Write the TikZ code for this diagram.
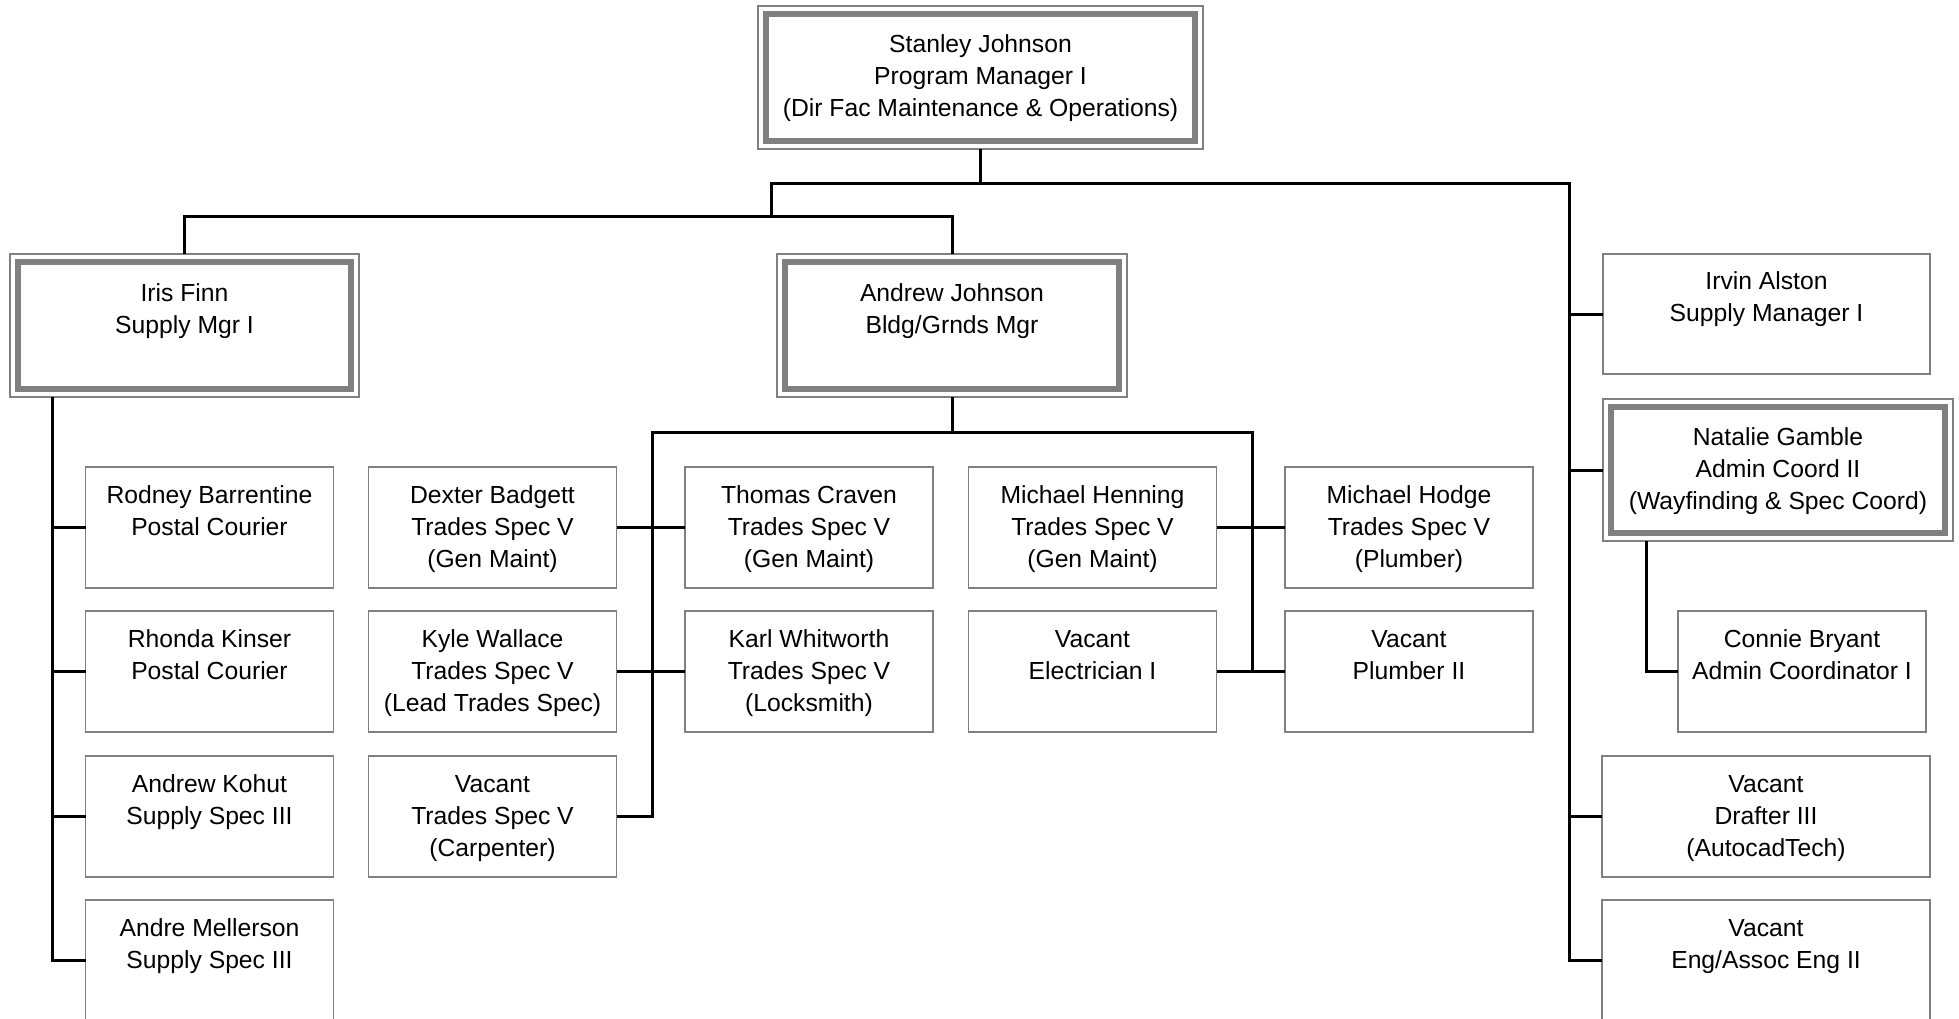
\documentclass[tikz,border=0pt]{standalone}
\usepackage{fontspec}
\setmainfont{Liberation Sans}
\definecolor{boxgray}{RGB}{128,128,128}
\tikzset{
  box/.style={draw=boxgray, line width=1.5, fill=white, minimum width=248,
    minimum height=121, inner sep=0, outer sep=0, align=center,
    font=\fontsize{24.7}{32}\selectfont, text height=89, text depth=10},
  mgr/.style={box, minimum height=143,
    path picture={\draw[line width=5.5, boxgray]
      ([xshift=8,yshift=-8]path picture bounding box.north west) rectangle
      ([xshift=-8,yshift=8]path picture bounding box.south east);}},
  link/.style={line width=3, black}
}
\begin{document}
\begin{tikzpicture}[x=1pt,y=-1pt]
\useasboundingbox (0,0) rectangle (1959,1019);
% managers
\node[mgr, minimum width=445] (stanley) at (980.5,77.5)
  {Stanley Johnson\\Program Manager I\\(Dir Fac Maintenance \& Operations)};
\node[mgr, minimum width=349] (iris) at (184.5,325.5) {Iris Finn\\Supply Mgr I\\\strut};
\node[mgr, minimum width=350] (andrew) at (952,325.5) {Andrew Johnson\\Bldg/Grnds Mgr\\\strut};
\node[mgr, minimum width=350, minimum height=142] (natalie) at (1778,470)
  {Natalie Gamble\\Admin Coord II\\(Wayfinding \& Spec Coord)};
% staff
\foreach \nm/\x/\y/\txt in {
  rodney/209.5/527.5/{Rodney Barrentine\\Postal Courier\\\strut},
  rhonda/209.5/671.5/{Rhonda Kinser\\Postal Courier\\\strut},
  kohut/209.5/816.5/{Andrew Kohut\\Supply Spec III\\\strut},
  mellerson/209.5/960.5/{Andre Mellerson\\Supply Spec III\\\strut},
  dexter/492.5/527.5/{Dexter Badgett\\Trades Spec V\\(Gen Maint)},
  wallace/492.5/671.5/{Kyle Wallace\\Trades Spec V\\(Lead Trades Spec)},
  carpenter/492.5/816.5/{Vacant\\Trades Spec V\\(Carpenter)},
  craven/809/527.5/{Thomas Craven\\Trades Spec V\\(Gen Maint)},
  whitworth/809/671.5/{Karl Whitworth\\Trades Spec V\\(Locksmith)},
  henning/1092.5/527.5/{Michael Henning\\Trades Spec V\\(Gen Maint)},
  electrician/1092.5/671.5/{Vacant\\Electrician I\\\strut},
  hodge/1409/527.5/{Michael Hodge\\Trades Spec V\\(Plumber)},
  plumber/1409/671.5/{Vacant\\Plumber II\\\strut},
  connie/1802/671.5/{Connie Bryant\\Admin Coordinator I\\\strut}%
}
\node[box] (\nm) at (\x,\y) {\txt};
\node[box, minimum width=327, minimum height=120] (irvin) at (1766.5,314)
  {Irvin Alston\\Supply Manager I\\\strut};
\node[box, minimum width=328] (drafter) at (1766,816.5) {Vacant\\Drafter III\\(AutocadTech)};
\node[box, minimum width=328] (engineer) at (1766,960.5) {Vacant\\Eng/Assoc Eng II\\\strut};
% connectors
\coordinate (rbus) at (1569,184);
\coordinate (lbus) at (771,217);
\draw[link] (stanley.south) -- (stanley.south |- rbus);
\draw[link] (lbus) |- (rbus) |- (engineer.west);
\draw[link] (iris.north) |- (lbus) -| (andrew.north);
\foreach \nm in {irvin,natalie,drafter}
  \draw[link] (rbus |- \nm.west) -- (\nm.west);
\coordinate (ispine) at ([xshift=42]iris.south west);
\draw[link] (ispine) |- (mellerson.west);
\foreach \nm in {rodney,rhonda,kohut}
  \draw[link] (ispine |- \nm.west) -- (\nm.west);
\coordinate (abusl) at (652,432);
\coordinate (abusr) at (1252,432);
\draw[link] (andrew.south) -- (andrew.south |- abusl);
\draw[link] (carpenter.east) -| (abusl) -- (abusr) |- (plumber.west);
\foreach \a/\b in {dexter/craven,wallace/whitworth,henning/hodge,electrician/plumber}
  \draw[link] (\a.east) -- (\b.west);
\coordinate (nspine) at ([xshift=43]natalie.south west);
\draw[link] (nspine) |- (connie.west);
\end{tikzpicture}
\end{document}
